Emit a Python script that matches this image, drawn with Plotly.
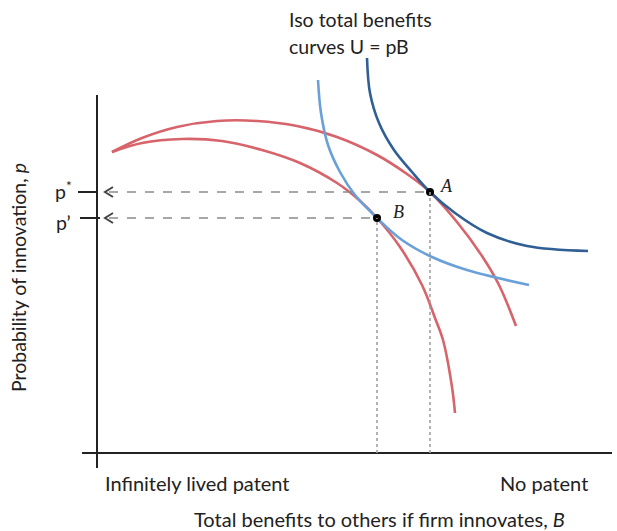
import plotly.graph_objects as go

# Curves in (B, p) plot units; origin at the axis crossing
outer_red_B = [15, 45, 80, 120, 160, 200, 240, 280, 310, 333, 360, 385, 402, 419]
outer_red_p = [301, 315, 326, 332, 332, 327, 316, 298, 279, 261, 231, 197, 168, 127]

inner_red_B = [15, 45, 85, 125, 165, 203, 240, 262, 280, 303, 325, 338, 346, 355, 358]
inner_red_p = [301, 310, 314, 312, 303, 290, 270, 253, 235, 206, 168, 135, 113, 66, 40]

dark_blue_B = [270, 273, 282, 297, 315, 333, 358, 390, 430, 491]
dark_blue_p = [395, 360, 330, 303, 281, 261, 240, 220, 207, 202]

light_blue_B = [221, 224, 231, 243, 258, 280, 305, 335, 370, 432]
light_blue_p = [373, 340, 308, 281, 258, 235, 213, 196, 183, 168]

point_names = ["A", "B"]
point_B = [333, 280]
point_p = [261, 235]
tick_labels = ["p<sup>*</sup>", "p’"]

RED = "#d7636b"
LBLUE = "#6aa0d8"
DBLUE = "#2f5f94"
GRAY = "#8a8a8a"
FONT = "Lato"
FS = 19.5

fig = go.Figure()

def curve(x, y, color):
    fig.add_trace(go.Scatter(x=x, y=y, mode="lines", line=dict(color=color, width=2.6, shape="spline", smoothing=1.0),
                             hoverinfo="skip", showlegend=False))

curve(outer_red_B, outer_red_p, RED)
curve(inner_red_B, inner_red_p, RED)
curve(light_blue_B, light_blue_p, LBLUE)
curve(dark_blue_B, dark_blue_p, DBLUE)

shapes = []
# axes
shapes.append(dict(type="line", x0=0, x1=0, y0=-15, y1=358, xref="x", yref="y", line=dict(color="#222", width=2)))
shapes.append(dict(type="line", x0=-15, x1=515, y0=0, y1=0, xref="x", yref="y", line=dict(color="#222", width=2)))

for i, (bx, py) in enumerate(zip(point_B, point_p)):
    shapes.append(dict(type="line", x0=12, x1=bx, y0=py, y1=py, xref="x", yref="y",
                       line=dict(color=GRAY, width=1.6, dash="dash")))
    shapes.append(dict(type="line", x0=bx, x1=bx, y0=0, y1=py, xref="x", yref="y",
                       line=dict(color="#a0a0a0", width=1.6, dash="dot")))
    shapes.append(dict(type="line", x0=-19 if i == 0 else -17, x1=0 if i == 0 else 3, y0=py, y1=py,
                       xref="x", yref="y", line=dict(color="#222", width=2)))
    fig.add_trace(go.Scatter(x=[16, 8, 16], y=[py + 5, py, py - 5], mode="lines",
                             line=dict(color="#444", width=2), hoverinfo="skip", showlegend=False))

fig.add_trace(go.Scatter(x=point_B, y=point_p, mode="markers",
                         marker=dict(color="black", size=8), hoverinfo="skip", showlegend=False))

label_offsets = {"A": (16, 6), "B": (21, 6)}
ann = []
for name, bx, py in zip(point_names, point_B, point_p):
    dx, dy = label_offsets[name]
    ann.append(dict(x=bx + dx, y=py + dy, text=f"<i>{name}</i>", showarrow=False, xanchor="center", yanchor="middle",
                    font=dict(family="Liberation Serif", size=18, color="#222")))
for lab, py, dy in zip(tick_labels, point_p, [2, -4]):
    ann.append(dict(x=-34, y=py + dy, text=lab, showarrow=False, xanchor="center", yanchor="middle",
                    font=dict(family=FONT, size=FS, color="#222")))

ann.append(dict(x=190, y=434, text="Iso total benefits", showarrow=False, xanchor="left", yanchor="middle",
                font=dict(family=FONT, size=FS, color="#222")))
ann.append(dict(x=190, y=407, text="curves U = pB", showarrow=False, xanchor="left", yanchor="middle",
                font=dict(family=FONT, size=FS, color="#222")))
ann.append(dict(x=-79, y=175, text="Probability of innovation, <i>p</i>", showarrow=False, textangle=-90,
                xanchor="center", yanchor="middle", font=dict(family=FONT, size=FS, color="#222")))
ann.append(dict(x=6, y=-30, text="Infinitely lived patent", showarrow=False, xanchor="left", yanchor="middle",
                font=dict(family=FONT, size=20, color="#222")))
ann.append(dict(x=493, y=-30, text="No patent", showarrow=False, xanchor="right", yanchor="middle",
                font=dict(family=FONT, size=20, color="#222")))
ann.append(dict(x=282, y=-66, text="Total benefits to others if firm innovates, <i>B</i>", showarrow=False,
                xanchor="center", yanchor="middle", font=dict(family=FONT, size=20, color="#222")))

fig.update_layout(
    width=617, height=531, margin=dict(l=0, r=0, t=0, b=0),
    paper_bgcolor="white", plot_bgcolor="white",
    xaxis=dict(range=[-97, 520], visible=False, fixedrange=True),
    yaxis=dict(range=[-78, 453], visible=False, fixedrange=True),
    shapes=shapes, annotations=ann, showlegend=False,
)

fig.write_html("out.html", config={"displayModeBar": False},
               post_script="document.body.style.margin='0px';")
